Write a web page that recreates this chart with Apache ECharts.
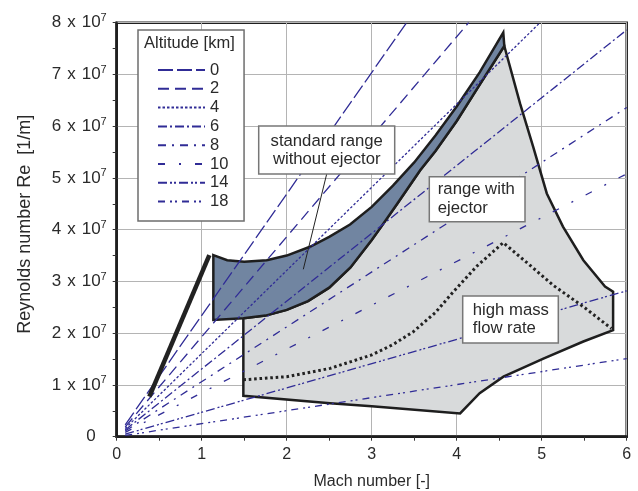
<!DOCTYPE html>
<html><head><meta charset="utf-8">
<script src="https://cdn.jsdelivr.net/npm/echarts/dist/echarts.min.js"></script>
<style>html,body{margin:0;padding:0;background:#fff}#c{width:638px;height:491px}</style>
</head><body><div id="c"></div>
<script>
// ---- data (Reynolds number in units of 1e7 per metre) ----
const xTicks = [0, 1, 2, 3, 4, 5, 6];
const yTicks = [0, 1, 2, 3, 4, 5, 6, 7, 8];
const yTickBase = '10';
const yTickExp = '7';
const altitudes = ['0', '2', '4', '6', '8', '10', '14', '18'];
const altStart = [[0.1,0.23],[0.1,0.19],[0.1,0.16],[0.1,0.13],[0.1,0.11],[0.1,0.085],[0.1,0.05],[0.1,0.025]];
const altEnd   = [[3.41,8.0],[4.14,8.0],[4.98,8.0],[6,7.86],[6,6.36],[6,5.08],[6,2.82],[6,1.51]];
const lowLimitLine = [[0.384,0.773],[1.09,3.51]];
const stdUpper = [[1.137,3.51],[1.3,3.41],[1.5,3.38],[1.765,3.41],[2.0,3.5],[2.274,3.67],[2.5,3.86],[2.745,4.1],[3.0,4.44],[3.25,4.85],[3.5,5.3],[3.75,5.82],[4.0,6.38],[4.27,7.04],[4.548,7.81]];
const stdLower = [[4.56,7.55],[4.25,6.75],[4.0,6.1],[3.75,5.52],[3.57,5.15],[3.3,4.5],[3.1,4.03],[3.0,3.8],[2.75,3.27],[2.5,2.88],[2.25,2.62],[2.0,2.45],[1.75,2.34],[1.49,2.29],[1.137,2.255]];
const ejectorOuter = [[1.49,2.29],[1.49,0.79],[2.51,0.645],[3.0,0.59],[4.04,0.45],[4.27,0.84],[4.55,1.16],[5.02,1.51],[5.49,1.84],[5.84,2.06],[5.84,2.8],[5.745,2.9],[5.49,3.41],[5.25,4.06],[5.06,4.70],[4.90,5.60],[4.745,6.44],[4.56,7.55]];
const highMassFlow = [[1.49,1.10],[2.0,1.16],[2.51,1.32],[3.0,1.58],[3.25,1.78],[3.49,2.03],[3.75,2.4],[3.96,2.8],[4.24,3.3],[4.548,3.75],[4.85,3.33],[5.14,2.92],[5.5,2.5],[5.82,2.09]];

// ---- styles ----
const altDash = [[15,4],[11,6],[2.5,2],[9,3,2,3],[8,6,2,6],[7,14,2,14],[9,3,2,2,2,3],[7,5,2,3,2,5]];
const altColor = '#302c96';
const FONT = 'Liberation Sans, Arial, sans-serif';
const TXT = '#2a2a2a';

const stdPoly = stdUpper.concat(stdLower);
const ejPoly = ejectorOuter.concat(stdLower.filter(p => p[0] >= 1.49 && p[0] < 4.56));

function polyRender(pts, fill) {
  return function (params, api) {
    if (params.dataIndex !== 0) return null;
    return {
      type: 'polygon',
      shape: { points: pts.map(p => api.coord(p)) },
      style: { fill: fill, stroke: '#1e1e1e', lineWidth: 2.5, lineJoin: 'miter' }
    };
  };
}

const series = [
  { type: 'custom', name: 'ejector', z: 1, data: ejPoly, renderItem: polyRender(ejPoly, '#d8dadb'), silent: true },
  { type: 'custom', name: 'standard', z: 2, data: stdPoly, renderItem: polyRender(stdPoly, '#7185a1'), silent: true }
];
altitudes.forEach((a, i) => {
  series.push({
    type: 'line', name: a, z: 5, symbol: 'none', data: [altStart[i], altEnd[i]],
    lineStyle: { color: altColor, width: 1.3, type: altDash[i], cap: 'butt' },
    itemStyle: { color: altColor }
  });
});
series.push({ type: 'line', name: 'low', z: 6, symbol: 'none', data: lowLimitLine,
  lineStyle: { color: '#222', width: 4.5 } });
series.push({ type: 'line', name: 'hmf', z: 6, symbol: 'none', data: highMassFlow,
  lineStyle: { color: '#222', width: 3, type: [2.6, 2.8] } });

const chart = echarts.init(document.getElementById('c'), null, { renderer: 'canvas' });
chart.setOption({
  animation: false,
  backgroundColor: '#fff',
  textStyle: { fontFamily: FONT },
  grid: { left: 116.7, right: 11.3, top: 22.7, bottom: 54.3, containLabel: false, outerBoundsMode: 'none',
    show: true, borderColor: '#1e1e1e', borderWidth: 2.5, backgroundColor: 'transparent' },
  xAxis: {
    type: 'value', min: xTicks[0], max: xTicks[xTicks.length - 1], interval: 1,
    name: 'Mach number [-]', nameLocation: 'middle', nameGap: 37, nameMoveOverlap: false,
    nameTextStyle: { fontSize: 16, color: TXT, fontFamily: FONT },
    axisLine: { show: true, onZero: false, lineStyle: { color: '#1e1e1e', width: 2.5 } },
    axisTick: { show: true, length: 4, lineStyle: { color: '#333' } },
    minorTick: { show: true, splitNumber: 2, length: 4, lineStyle: { color: '#333' } },
    splitLine: { show: true, lineStyle: { color: '#b4b4b4', width: 1 } },
    axisLabel: { fontSize: 16, color: TXT, margin: 10, fontFamily: FONT }
  },
  yAxis: {
    type: 'value', min: yTicks[0], max: yTicks[yTicks.length - 1], interval: 1,
    name: 'Reynolds number Re  [1/m]', nameLocation: 'middle', nameGap: 83, nameMoveOverlap: false,
    nameTextStyle: { fontSize: 18, color: TXT, fontFamily: FONT, padding: [0, 0, 0, 11] },
    axisLine: { show: true, onZero: false, lineStyle: { color: '#1e1e1e', width: 2.5 } },
    axisTick: { show: true, length: 4, lineStyle: { color: '#333' } },
    minorTick: { show: true, splitNumber: 2, length: 4, lineStyle: { color: '#333' } },
    splitLine: { show: true, lineStyle: { color: '#b4b4b4', width: 1 } },
    axisLabel: {
      margin: 10, color: TXT, fontFamily: FONT,
      formatter: v => v === 0 ? '{z|0}' : '{a|' + v + '}{x|x}{a|' + yTickBase + '}{s|' + yTickExp + '}',
      rich: {
        z: { fontSize: 17, fontFamily: FONT, color: TXT, padding: [0, 11, 0, 0] },
        a: { fontSize: 17, fontFamily: FONT, color: TXT },
        x: { fontSize: 17, fontFamily: FONT, color: TXT, padding: [0, 6, 0, 6] },
        s: { fontSize: 11, fontFamily: FONT, color: TXT, padding: [0, 0, 9, 0] }
      }
    }
  },
  legend: {
    data: altitudes, orient: 'vertical', left: 138, top: 30,
    padding: [30.6, 15.7, 10, 19], itemGap: 0, itemWidth: 47, itemHeight: 10,
    backgroundColor: '#fff', borderColor: '#6e6e6e', borderWidth: 1.5, borderRadius: 0,
    selectedMode: false,
    itemStyle: { opacity: 0, color: 'rgba(0,0,0,0)', borderColor: 'rgba(0,0,0,0)', borderWidth: 0 },
    textStyle: { fontSize: 16.5, color: TXT, fontFamily: FONT, lineHeight: 18.8 }
  },
  graphic: [
    { type: 'text', z: 100, left: 144, top: 35, style: { text: 'Altitude [km]', font: '16.5px ' + FONT, fill: TXT } },
    { type: 'line', z: 100, shape: { x1: 326.7, y1: 174, x2: 303.3, y2: 269.3 }, style: { stroke: '#222', lineWidth: 1 } },
    { type: 'rect', z: 100, shape: { x: 258.7, y: 126, width: 136, height: 48 }, style: { fill: '#fff', stroke: '#777', lineWidth: 1.5 } },
    { type: 'text', z: 101, x: 326.7, y: 150, style: { text: 'standard range\nwithout ejector', font: '16.7px ' + FONT, fill: TXT, textAlign: 'center', textVerticalAlign: 'middle', lineHeight: 18 } },
    { type: 'rect', z: 100, shape: { x: 429.3, y: 176.7, width: 95.7, height: 45 }, style: { fill: '#fff', stroke: '#777', lineWidth: 1.5 } },
    { type: 'text', z: 101, x: 437.8, y: 199, style: { text: 'range with\nejector', font: '16.7px ' + FONT, fill: TXT, textAlign: 'left', textVerticalAlign: 'middle', lineHeight: 18.4 } },
    { type: 'rect', z: 100, shape: { x: 462.7, y: 296, width: 95.6, height: 47 }, style: { fill: '#fff', stroke: '#777', lineWidth: 1.5 } },
    { type: 'text', z: 101, x: 472.8, y: 319.5, style: { text: 'high mass\nflow rate', font: '16.7px ' + FONT, fill: TXT, textAlign: 'left', textVerticalAlign: 'middle', lineHeight: 18.4 } }
  ],
  series: series
});
</script></body></html>
